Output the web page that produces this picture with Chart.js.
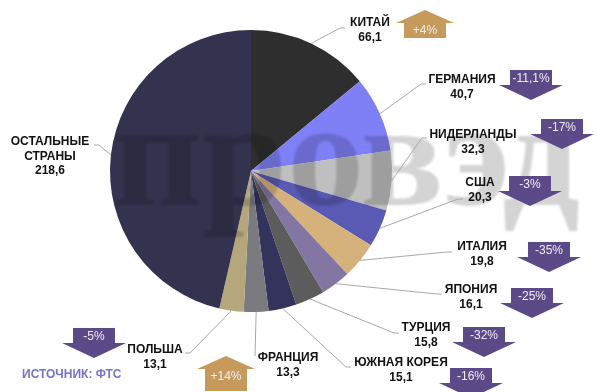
<!DOCTYPE html>
<html lang="ru">
<head>
<meta charset="utf-8">
<title>Импорт по странам</title>
<script src="https://cdn.jsdelivr.net/npm/chart.js@4"></script>
<style>
  html, body { margin: 0; padding: 0; background: #fff; }
  #wrap { position: relative; width: 596px; height: 392px; }
</style>
</head>
<body>
<div id="wrap"><canvas id="grafico"></canvas></div>
<script>
// страны
const strany = ['КИТАЙ', 'ГЕРМАНИЯ', 'НИДЕРЛАНДЫ', 'США', 'ИТАЛИЯ', 'ЯПОНИЯ', 'ТУРЦИЯ', 'ЮЖНАЯ КОРЕЯ', 'ФРАНЦИЯ', 'ПОЛЬША', ['ОСТАЛЬНЫЕ', 'СТРАНЫ']];
// объем
const znachenia = [66.1, 40.7, 32.3, 20.3, 19.8, 16.1, 15.8, 15.1, 13.3, 13.1, 218.6];
// изменение к прошлому году
const izmenenia = ['+4%', '-11,1%', '-17%', '-3%', '-35%', '-25%', '-32%', '-16%', '+14%', '-5%', null];

const cveta = ['#2e2e2e', '#7f80f6', '#bfbfbf', '#5a5ab4', '#d5b17b', '#8476a2', '#5c5c5c', '#34335c', '#7a7a7f', '#b5a67c', '#34334f'];

// подписи: x центра, y первой строки, конец выноски x, y
const podpisi = [
    [370, 23, 345, 28],
    [462, 80, 426, 84],
    [473, 135, 427, 138],
    [480, 183, 463, 199],
    [482, 247, 452, 252],
    [471, 290, 442, 294],
    [426, 328, 399, 333],
    [401, 363, 351, 367],
    [288, 358, 255, 356],
    [155, 350, 185, 353],
    [50, 142, 94, 145]
];

// стрелки: x центра, y верха, высота тела
const strelki = [
    [425, 10, 15],
    [531, 70, 15],
    [562, 119, 15],
    [530, 176, 15],
    [549, 242, 15],
    [532, 288, 15],
    [484, 327, 15],
    [471, 368, 15],
    [226, 356, 22],
    [94, 328, 15],
    null
];

function chislo(v) {
    return v.toFixed(1).replace('.', ',');
}

function strelka(c, x, y, bh, tekst) {
    const vverh = tekst.charAt(0) === '+';
    const bw = 42, hw = vverh ? 58 : 64, hh = vverh ? 13 : 15;
    c.beginPath();
    let ty;
    if (vverh) {
        c.moveTo(x, y);
        c.lineTo(x + hw / 2, y + hh);
        c.lineTo(x + bw / 2, y + hh);
        c.lineTo(x + bw / 2, y + hh + bh);
        c.lineTo(x - bw / 2, y + hh + bh);
        c.lineTo(x - bw / 2, y + hh);
        c.lineTo(x - hw / 2, y + hh);
        ty = y + hh + 8;
    } else {
        c.moveTo(x - bw / 2, y);
        c.lineTo(x + bw / 2, y);
        c.lineTo(x + bw / 2, y + bh);
        c.lineTo(x + hw / 2, y + bh);
        c.lineTo(x, y + bh + hh);
        c.lineTo(x - hw / 2, y + bh);
        c.lineTo(x - bw / 2, y + bh);
        ty = y + 9;
    }
    c.closePath();
    c.fillStyle = vverh ? '#c69a5b' : '#5c4987';
    c.fill();
    c.fillStyle = '#efedf5';
    c.font = '12px "Liberation Sans", Arial, sans-serif';
    c.textAlign = 'center';
    c.textBaseline = 'middle';
    c.fillText(tekst, x, ty);
}

const vynoski = {
    id: 'vynoski',
    afterDatasetsDraw(chart) {
        // водяной знак поверх круга
        const c = chart.ctx;
        c.save();
        c.font = 'bold 150px "Liberation Serif", serif';
        const w = c.measureText('провэд').width;
        c.translate(113, 205);
        c.scale(467 / w, 1);
        c.filter = 'blur(1px)';
        c.fillStyle = 'rgba(0, 0, 0, 0.17)';
        c.textAlign = 'left';
        c.textBaseline = 'alphabetic';
        c.fillText('провэд', 0, 0);
        c.restore();
    },
    afterDraw(chart) {
        const c = chart.ctx;
        const arcs = chart.getDatasetMeta(0).data;
        c.save();
        arcs.forEach(function (arc, i) {
            const p = podpisi[i];
            const a = (arc.startAngle + arc.endAngle) / 2;
            const ex = arc.x + arc.outerRadius * Math.cos(a);
            const ey = arc.y + arc.outerRadius * Math.sin(a);
            // выноска
            c.strokeStyle = '#a8a8a8';
            c.lineWidth = 1;
            c.beginPath();
            c.moveTo(ex, ey);
            const elbow = p[2] < arc.x ? p[2] + 5 : p[2] - 5;
            if (Math.abs(p[2] - ex) > 8) {
                c.lineTo(elbow, p[3]);
            }
            c.lineTo(p[2], p[3]);
            c.stroke();

            // название и значение
            const lines = [].concat(strany[i]);
            lines.push(chislo(znachenia[i]));
            c.fillStyle = '#111';
            c.font = 'bold 12px "Liberation Sans", Arial, sans-serif';
            c.textAlign = 'center';
            c.textBaseline = 'middle';
            lines.forEach(function (t, k) {
                c.fillText(t, p[0], p[1] + k * 14.5);
            });

            if (izmenenia[i] && strelki[i]) {
                const s = strelki[i];
                strelka(c, s[0], s[1], s[2], izmenenia[i]);
            }
        });

        // источник
        c.fillStyle = '#7473c9';
        c.font = 'bold 12px "Liberation Sans", Arial, sans-serif';
        c.textAlign = 'left';
        c.textBaseline = 'middle';
        c.fillText('ИСТОЧНИК: ФТС', 22, 375);
        c.restore();
    }
};

new Chart(document.getElementById('grafico'), {
    type: 'pie',
    data: {
        labels: strany,
        datasets: [{
            data: znachenia,
            backgroundColor: cveta,
            borderWidth: 0
        }]
    },
    options: {
        responsive: true,
        maintainAspectRatio: false,
        animation: false,
        layout: { padding: { left: 110, right: 204, top: 30, bottom: 80 } },
        plugins: {
            legend: { display: false },
            tooltip: { enabled: false }
        }
    },
    plugins: [vynoski]
});
</script>
</body>
</html>
